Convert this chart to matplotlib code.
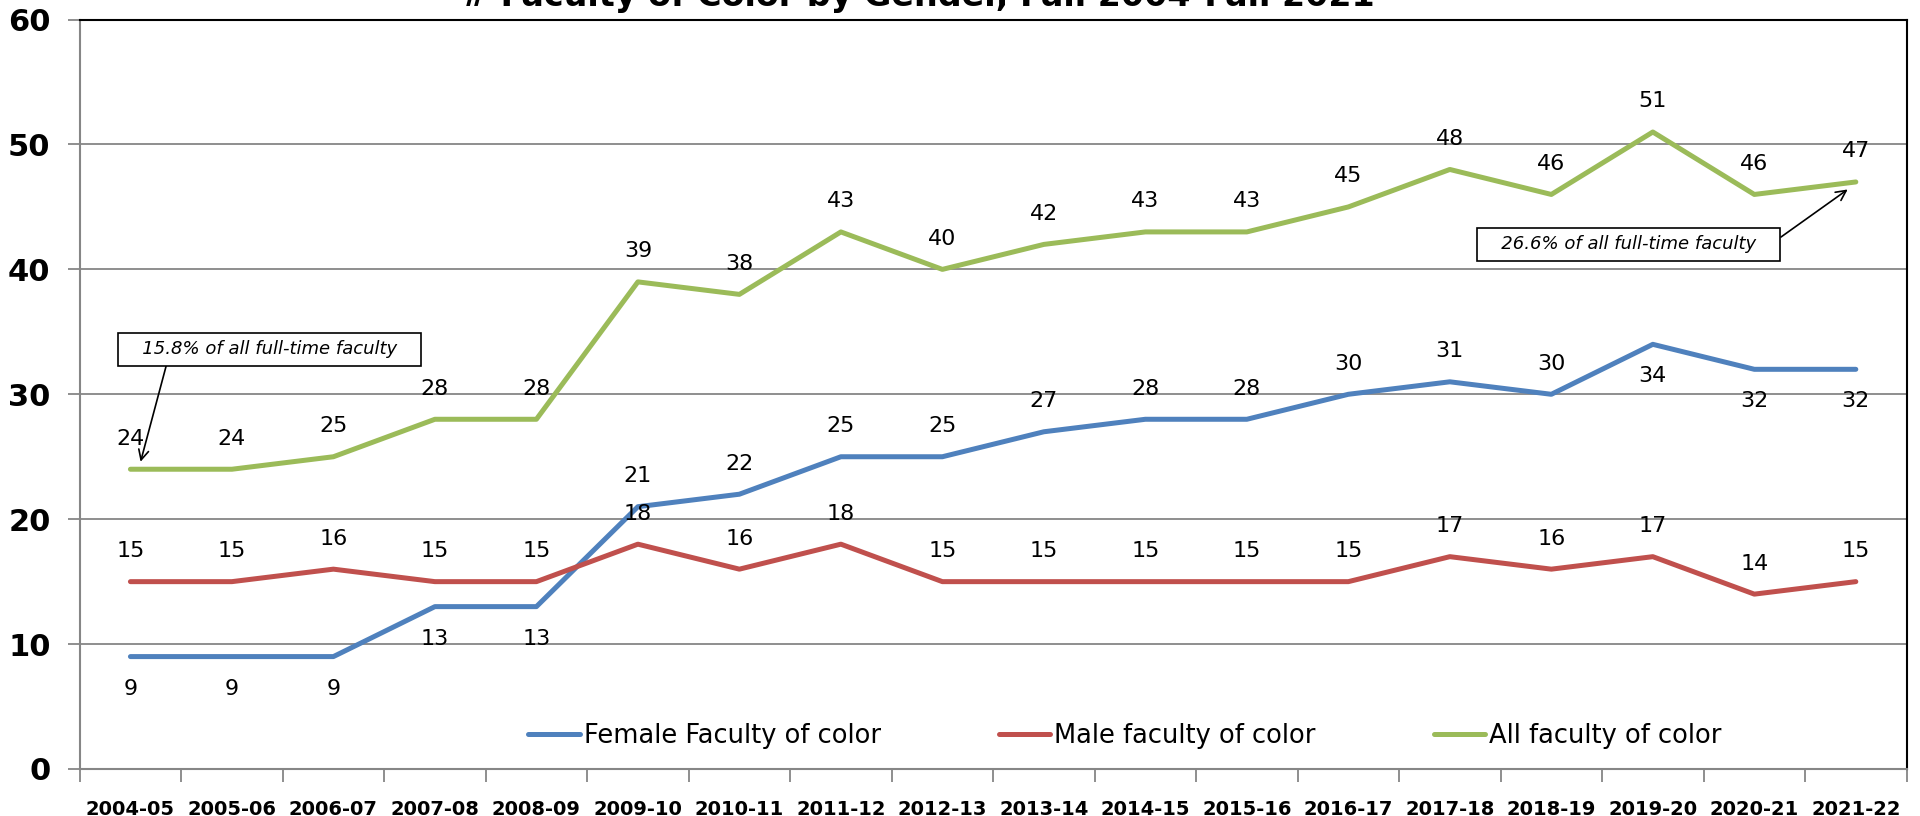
import numpy as np
import matplotlib
matplotlib.use("Agg")
import matplotlib.pyplot as plt

years = ["2004-05", "2005-06", "2006-07", "2007-08", "2008-09", "2009-10",
         "2010-11", "2011-12", "2012-13", "2013-14", "2014-15", "2015-16",
         "2016-17", "2017-18", "2018-19", "2019-20", "2020-21", "2021-22"]
female = [9, 9, 9, 13, 13, 21, 22, 25, 25, 27, 28, 28, 30, 31, 30, 34, 32, 32]
male = [15, 15, 16, 15, 15, 18, 16, 18, 15, 15, 15, 15, 15, 17, 16, 17, 14, 15]
allfac = [24, 24, 25, 28, 28, 39, 38, 43, 40, 42, 43, 43, 45, 48, 46, 51, 46, 47]
# label below the point (True) or above
female_below = [True, True, True, True, True, False, False, False, False, False,
                False, False, False, False, False, True, True, True]

plt.rcParams['font.family'] = ['DejaVu Sans']
fig = plt.figure(figsize=(19.2, 8.16), dpi=100)
ax = fig.add_axes([0.0415, 0.0576, 0.9515, 0.9184])

x = np.arange(len(years))
ax.plot(x, female, color='#4F81BD', lw=3.6, label='Female Faculty of color', solid_capstyle='round')
ax.plot(x, male, color='#C0504D', lw=3.6, label='Male faculty of color', solid_capstyle='round')
ax.plot(x, allfac, color='#9BBB59', lw=3.6, label='All faculty of color', solid_capstyle='round')

for i in x:
    ax.annotate(str(allfac[i]), (i, allfac[i]), xytext=(0, 22), textcoords='offset points',
                ha='center', va='center', fontsize=16)
    ax.annotate(str(male[i]), (i, male[i]), xytext=(0, 22), textcoords='offset points',
                ha='center', va='center', fontsize=16)
    off = -23 if female_below[i] else 22
    ax.annotate(str(female[i]), (i, female[i]), xytext=(0, off), textcoords='offset points',
                ha='center', va='center', fontsize=16)

boxprops = dict(boxstyle='square,pad=0.4', fc='white', ec='black', lw=1.2)
ax.annotate("   15.8% of all full-time faculty   ", xy=(0.1, 24.6), xytext=(1.37, 33.6),
            ha='center', va='center', fontsize=13, style='italic', bbox=boxprops,
            arrowprops=dict(arrowstyle='->', color='black', lw=1.2, mutation_scale=18,
                            shrinkA=0, shrinkB=0, relpos=(0.15, 0.0)))
ax.annotate("   26.6% of all full-time faculty   ", xy=(16.92, 46.4), xytext=(14.76, 42.0),
            ha='center', va='center', fontsize=13, style='italic', bbox=boxprops,
            arrowprops=dict(arrowstyle='->', color='black', lw=1.2, mutation_scale=18,
                            shrinkA=0, shrinkB=0, relpos=(1.0, 0.6)))

ax.set_xlim(-0.5, len(years) - 0.5)
ax.set_ylim(0, 60)
ax.set_yticks(range(0, 61, 10))
ax.set_yticklabels([str(v) for v in range(0, 61, 10)], fontsize=22, fontweight='bold')
ax.set_xticks(x)
ax.set_xticklabels(years, fontsize=14, fontweight='bold')
ax.set_xticks(np.arange(-0.5, len(years), 1), minor=True)
ax.tick_params(axis='x', which='major', length=0, pad=22)
ax.tick_params(axis='x', which='minor', length=9, color='#868686', width=1.3, direction='out')
ax.tick_params(axis='y', length=9, color='#868686', width=1.3, pad=12)

ax.grid(axis='y', color='#868686', lw=1.3)
ax.set_axisbelow(True)
for s in ['left', 'bottom']:
    ax.spines[s].set_color('#868686')
    ax.spines[s].set_linewidth(1.5)
for s in ['top', 'right']:
    ax.spines[s].set_color('black')
    ax.spines[s].set_linewidth(1.5)

fig.legend(loc='center', bbox_to_anchor=(0.586, 0.098), ncol=3, frameon=False,
           fontsize=18.5, handlelength=2.0, handletextpad=0.15, columnspacing=4.6)

fig.text(0.478, 0.993, "# Faculty of Color by Gender, Fall 2004-Fall 2021", ha='center',
         va='baseline', fontsize=24, fontweight='bold')

fig.savefig("out.png", dpi=100)
